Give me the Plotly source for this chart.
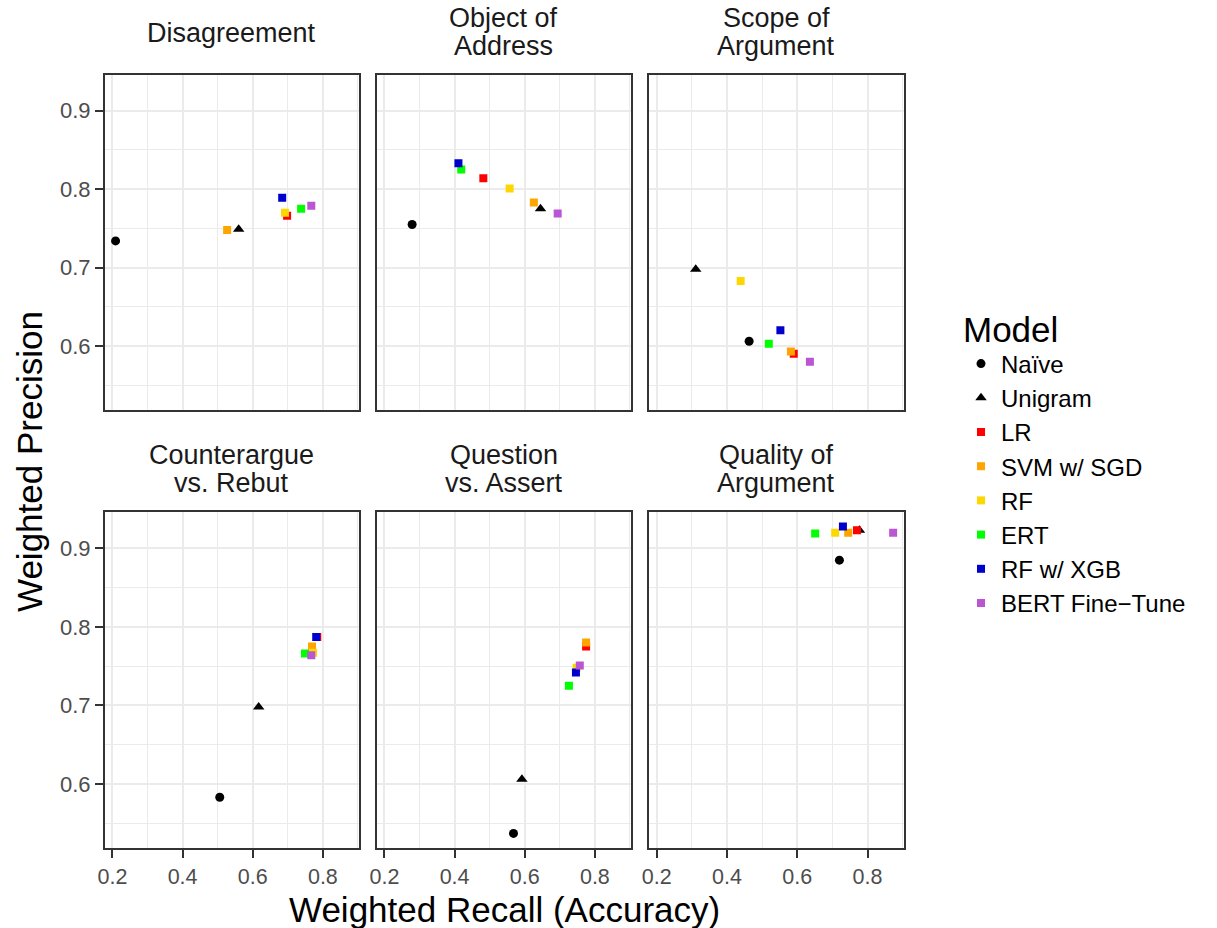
import plotly.graph_objects as go

W, H = 1217, 928

facets = ["Disagreement", "Object of Address", "Scope of Argument",
          "Counterargue vs. Rebut", "Question vs. Assert", "Quality of Argument"]
facet_lines = [["Disagreement"], ["Object of", "Address"], ["Scope of", "Argument"],
               ["Counterargue", "vs. Rebut"], ["Question", "vs. Assert"], ["Quality of", "Argument"]]

models = ["Naïve", "Unigram", "LR", "SVM w/ SGD", "RF", "ERT", "RF w/ XGB", "BERT Fine\u2212Tune"]
colors = ["#000000", "#000000", "#FF0000", "#FFA500", "#FFD700", "#00FF00", "#0000CD", "#BA55D3"]
symbols = ["circle", "triangle-up", "square", "square", "square", "square", "square", "square"]

# values per facet (order of `facets`)
recall_naive = [0.209, 0.279, 0.463, 0.506, 0.568, 0.720]
prec_naive = [0.734, 0.755, 0.606, 0.583, 0.537, 0.885]
recall_unigram = [0.560, 0.645, 0.311, 0.617, 0.592, 0.777]
prec_unigram = [0.749, 0.775, 0.698, 0.698, 0.606, 0.923]
recall_lr = [0.698, 0.482, 0.590, 0.784, 0.775, 0.770]
prec_lr = [0.766, 0.814, 0.590, 0.787, 0.775, 0.923]
recall_svm = [0.527, 0.626, 0.582, 0.769, 0.775, 0.745]
prec_svm = [0.748, 0.783, 0.593, 0.775, 0.780, 0.920]
recall_rf = [0.692, 0.557, 0.439, 0.772, 0.748, 0.708]
prec_rf = [0.770, 0.801, 0.683, 0.767, 0.748, 0.920]
recall_ert = [0.738, 0.419, 0.519, 0.749, 0.726, 0.651]
prec_ert = [0.775, 0.825, 0.603, 0.766, 0.725, 0.919]
recall_xgb = [0.684, 0.411, 0.552, 0.781, 0.746, 0.730]
prec_xgb = [0.789, 0.833, 0.620, 0.787, 0.742, 0.928]
recall_bert = [0.767, 0.694, 0.636, 0.767, 0.757, 0.873]
prec_bert = [0.779, 0.769, 0.580, 0.764, 0.751, 0.920]

recalls = [recall_naive, recall_unigram, recall_lr, recall_svm, recall_rf, recall_ert, recall_xgb, recall_bert]
precisions = [prec_naive, prec_unigram, prec_lr, prec_svm, prec_rf, prec_ert, prec_xgb, prec_bert]

x_ticks = [0.2, 0.4, 0.6, 0.8]
x_ticklabels = ["0.2", "0.4", "0.6", "0.8"]
y_ticks = [0.6, 0.7, 0.8, 0.9]
y_ticklabels = ["0.6", "0.7", "0.8", "0.9"]
x_minor = [0.3, 0.5, 0.7, 0.9]
y_minor = [0.55, 0.65, 0.75, 0.85]
x_range = [0.178, 0.903]
y_range = [0.518, 0.946]

FONT = "Liberation Sans, Arial, sans-serif"

# panel pixel boxes
col_px = [(104.7, 359.0), (376.7, 631.0), (649.0, 903.7)]
row_px = [(74.7, 410.3), (512.3, 848.3)]

def px_x(p):
    return p / W

def px_y(p):
    return 1 - p / H

fig = go.Figure()

sizes = [9, 10, 8, 8, 8, 8, 8, 8]
for mi, m in enumerate(models):
    for fi in range(6):
        ax = "" if fi == 0 else str(fi + 1)
        fig.add_trace(go.Scatter(
            x=[recalls[mi][fi]], y=[precisions[mi][fi]],
            mode="markers",
            marker=dict(symbol=symbols[mi], color=colors[mi], size=sizes[mi], line=dict(width=0)),
            name=m, legendgroup=m, showlegend=(fi == 0),
            xaxis="x" + ax, yaxis="y" + ax,
        ))

layout = dict(
    width=W, height=H, autosize=False,
    margin=dict(l=0, r=0, t=0, b=0, pad=0, autoexpand=False),
    paper_bgcolor="white", plot_bgcolor="white",
    font=dict(family=FONT, color="#000000"),
    showlegend=True,
    legend=dict(
        title=dict(text="Model", font=dict(size=35, family=FONT, color="#000000")),
        font=dict(size=24, family=FONT, color="#000000"),
        x=px_x(961), xanchor="left", y=px_y(461), yanchor="middle",
        tracegroupgap=0, itemsizing="trace",
        bgcolor="rgba(0,0,0,0)",
    ),
)

annotations = []
for fi in range(6):
    r, c = divmod(fi, 3)
    x0, x1 = col_px[c]
    y0, y1 = row_px[r]
    ax = "" if fi == 0 else str(fi + 1)
    bottom = (r == 1)
    left = (c == 0)
    layout["xaxis" + ax] = dict(
        domain=[px_x(x0), px_x(x1)], range=x_range, anchor="y" + ax,
        tickvals=x_ticks, ticktext=x_ticklabels, automargin=False,
        showticklabels=bottom, ticks="outside" if bottom else "",
        ticklen=8, tickwidth=2.4, tickcolor="#333333",
        tickfont=dict(size=21.5, color="#4D4D4D", family=FONT),
        showgrid=True, gridcolor="#EBEBEB", gridwidth=1.8,
        minor=dict(tickvals=x_minor, showgrid=True, gridcolor="#EBEBEB", gridwidth=0.9, ticks=""),
        showline=True, mirror=True, linecolor="#333333", linewidth=1.6,
        zeroline=False, fixedrange=True,
    )
    layout["yaxis" + ax] = dict(
        domain=[px_y(y1), px_y(y0)], range=y_range, anchor="x" + ax,
        tickvals=y_ticks, ticktext=y_ticklabels, automargin=False,
        showticklabels=left, ticks="outside" if left else "",
        ticklen=8, tickwidth=2.4, tickcolor="#333333",
        tickfont=dict(size=22, color="#4D4D4D", family=FONT),
        showgrid=True, gridcolor="#EBEBEB", gridwidth=1.8,
        minor=dict(tickvals=y_minor, showgrid=True, gridcolor="#EBEBEB", gridwidth=0.9, ticks=""),
        showline=True, mirror=True, linecolor="#333333", linewidth=1.6,
        zeroline=False, fixedrange=True,
    )
    # strip titles
    cx = (x0 + x1) / 2
    lines = facet_lines[fi]
    if len(lines) == 1:
        centers = [y0 - 42]
    else:
        centers = [y0 - 57, y0 - 29]
    for txt, cy in zip(lines, centers):
        annotations.append(dict(
            text=txt, x=px_x(cx), y=px_y(cy), xref="paper", yref="paper",
            xanchor="center", yanchor="middle", showarrow=False,
            font=dict(size=27, color="#1A1A1A", family=FONT),
        ))

annotations.append(dict(
    text="Weighted Recall (Accuracy)", x=px_x(504), y=px_y(909), xref="paper", yref="paper",
    xanchor="center", yanchor="middle", showarrow=False,
    font=dict(size=35, color="#000000", family=FONT),
))
annotations.append(dict(
    text="Weighted Precision", x=px_x(30), y=px_y(462), xref="paper", yref="paper",
    xanchor="center", yanchor="middle", showarrow=False, textangle=-90,
    font=dict(size=35, color="#000000", family=FONT),
))
layout["annotations"] = annotations

fig.update_layout(**layout)
fig.write_html("out.html", config={"displayModeBar": False},
               post_script="document.body.style.margin='0';document.documentElement.style.margin='0';")
